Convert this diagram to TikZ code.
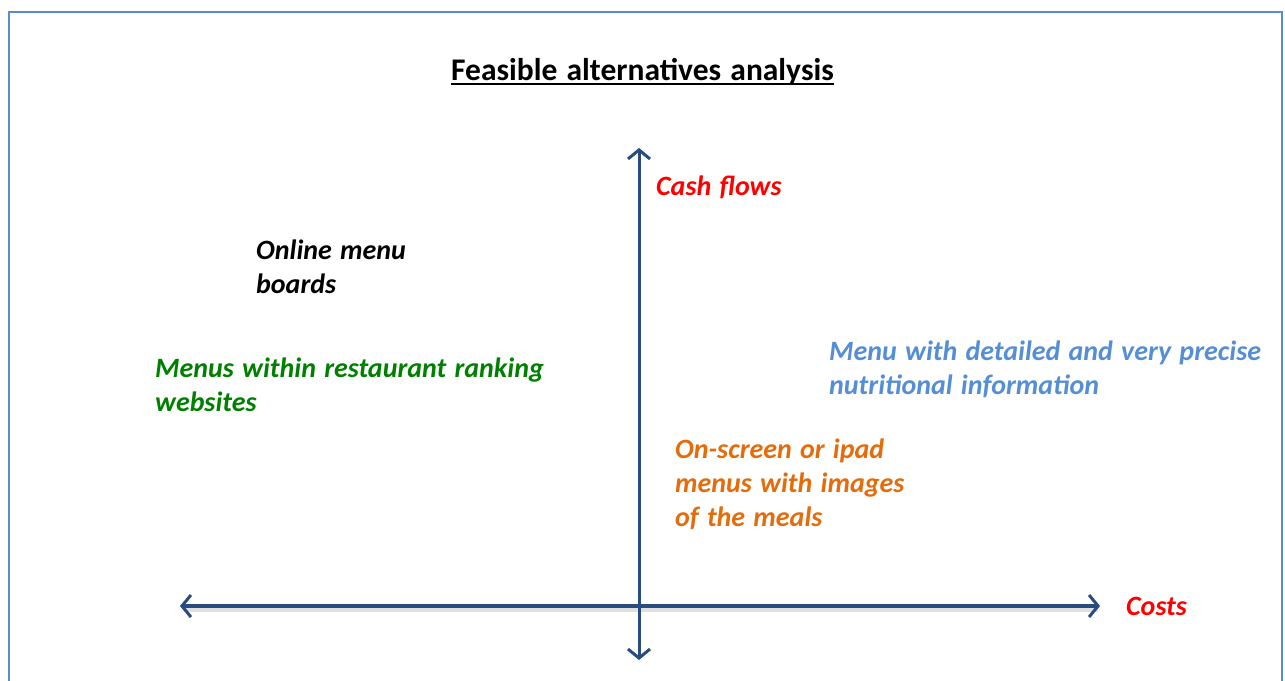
\documentclass[tikz,border=0pt]{standalone}
\usepackage{fontspec}
\setmainfont{Carlito}[WordSpace=1.3]
\usetikzlibrary{arrows.meta}
\definecolor{framec}{HTML}{5B8BD0}
\definecolor{axisc}{HTML}{284C80}
\definecolor{redc}{HTML}{FF0000}
\definecolor{greenc}{HTML}{008000}
\definecolor{bluec}{HTML}{558ED5}
\definecolor{orangec}{HTML}{E46C0A}
\tikzset{
  lbl/.style={inner sep=0pt, anchor=base west, align=left,
    font=\fontsize{28}{34}\selectfont\bfseries\itshape},
  axisline/.style={draw=axisc, line width=3.5pt,
    arrows={Straight Barb[length=9pt,width=22pt,line width=3pt]-Straight Barb[length=9pt,width=22pt,line width=3pt]}},
  shadowline/.style={draw=black!12, line width=4.5pt},
}
\begin{document}
\begin{tikzpicture}[x=1pt,y=-1pt]
\useasboundingbox (0,0) rectangle (1285,680);
% frame
\draw[framec, line width=2.5pt] (9,681) -- (9,12) -- (1282,12) -- (1282,681);
% title
\node[inner sep=0pt, anchor=base west, font=\fontsize{31.5}{38}\selectfont\bfseries] (title) at (451,80) {Feasible alternatives analysis};
\draw[line width=1.6pt] ([yshift=-4pt]title.base west) -- ([yshift=-4pt]title.base east);
% axes
\coordinate (xl) at (180,606);
\coordinate (xr) at (1100,606);
\coordinate (yt) at (639,148);
\coordinate (yb) at (639,660);
\draw[shadowline] ([shift={(4,4)}]xl) -- ([shift={(-2,4)}]xr);
\draw[axisline, line width=4.5pt] (xl) -- (xr);
\draw[axisline, line width=3pt] (yb) -- (yt);
% labels (base anchor = baseline of last line)
\node[lbl, text=redc] (cash) at (656,195) {Cash flows};
\node[lbl, text=redc] (costs) at (1126,615) {Costs};
\node[lbl, text=black] (online) at (256,293) {Online menu\\boards};
\node[lbl, text=greenc] (ranking) at (155,411) {Menus within restaurant ranking\\websites};
\node[lbl, text=bluec] (nutri) at (829,394) {Menu with detailed and very precise\\nutritional information};
\node[lbl, text=orangec] (ipad) at (675,526) {On-screen or ipad\\menus with images\\of the meals};
\end{tikzpicture}
\end{document}
